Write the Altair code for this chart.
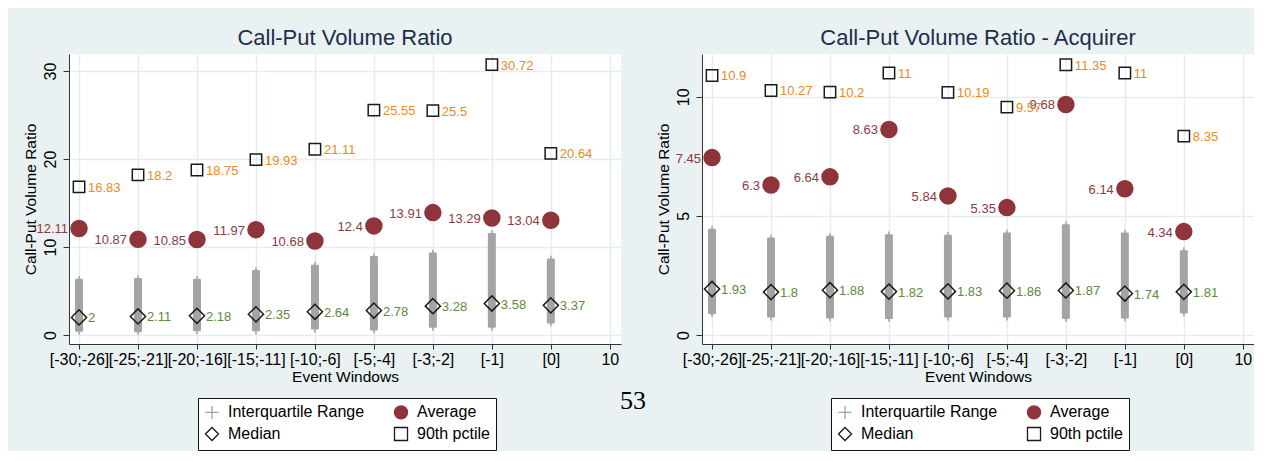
import json
import altair as alt
import pandas as pd

# ---------------- data ----------------
categories = ["[-30;-26]", "[-25;-21]", "[-20;-16]", "[-15;-11]", "[-10;-6]",
              "[-5;-4]", "[-3;-2]", "[-1]", "[0]"]
positions = [1, 2, 3, 4, 5, 6, 7, 8, 9]
series_names = ["Interquartile Range", "Average", "Median", "90th pctile"]

# Left panel: all firms
all_avg = [12.11, 10.87, 10.85, 11.97, 10.68, 12.4, 13.91, 13.29, 13.04]
all_median = [2, 2.11, 2.18, 2.35, 2.64, 2.78, 3.28, 3.58, 3.37]
all_p90 = [16.83, 18.2, 18.75, 19.93, 21.11, 25.55, 25.5, 30.72, 20.64]
all_iqr_lo = [0.45, 0.4, 0.5, 0.5, 0.7, 0.6, 0.9, 0.9, 1.4]
all_iqr_hi = [6.3, 6.4, 6.3, 7.3, 7.9, 8.9, 9.3, 11.5, 8.6]

# Right panel: acquirer
acq_avg = [7.45, 6.3, 6.64, 8.63, 5.84, 5.35, 9.68, 6.14, 4.34]
acq_median = [1.93, 1.8, 1.88, 1.82, 1.83, 1.86, 1.87, 1.74, 1.81]
acq_p90 = [10.9, 10.27, 10.2, 11, 10.19, 9.57, 11.35, 11, 8.35]
acq_iqr_lo = [0.9, 0.76, 0.72, 0.7, 0.76, 0.76, 0.7, 0.72, 0.93]
acq_iqr_hi = [4.43, 4.06, 4.13, 4.2, 4.18, 4.27, 4.62, 4.27, 3.53]

# ---------------- style ----------------
FONT = "Liberation Sans"
BG = "#E9F1F3"
GRID = "#E3ECEF"
MAROON = "#8F343B"
MAROON_TXT = "#8E3A42"
GREEN_TXT = "#5E8A3A"
ORANGE_TXT = "#EC8A1C"
GREY = "#A4A4A4"
INK = "#1A1A1A"
CROSS = "M-1,0L1,0M0,-1L0,1"

W, H = 552, 290
sizes = {"Interquartile Range": 50, "Average": 256, "Median": 230, "90th pctile": 130}

label_expr = "datum.value < 10 ? " + json.dumps(categories) + "[datum.value - 1] : '10'"


def panel(avg, med, p90, lo, hi, ydomain, yticks, title):
    pts_rows, lab_rows, rule_rows = [], [], []
    for i, p in enumerate(positions):
        rule_rows.append({"pos": p, "lo": lo[i], "hi": hi[i]})
        pts_rows.append({"pos": p, "value": lo[i], "series": series_names[0], "sz": sizes[series_names[0]]})
        pts_rows.append({"pos": p, "value": hi[i], "series": series_names[0], "sz": sizes[series_names[0]]})
        for s, arr in zip(series_names[1:], [avg, med, p90]):
            pts_rows.append({"pos": p, "value": arr[i], "series": s, "sz": sizes[s]})
            lab_rows.append({"pos": p, "value": arr[i], "series": s, "label": f"{arr[i]:g}"})
    pts = pd.DataFrame(pts_rows)
    labs = pd.DataFrame(lab_rows)
    rules = pd.DataFrame(rule_rows)

    xscale = alt.Scale(domain=[0.83, 10.19], nice=False, zero=False)
    yscale = alt.Scale(domain=ydomain, nice=False, zero=False)
    xaxis = alt.Axis(values=list(range(1, 11)), labelExpr=label_expr, title="Event Windows",
                     grid=True, tickSize=5, labelPadding=2, labelAngle=0,
                     labelOverlap=False, labelFlush=False, titlePadding=2, titleFontSize=15.5)
    yaxis = alt.Axis(values=yticks, title="Call-Put Volume Ratio", grid=True, tickSize=6,
                     labelAngle=270, labelAlign="center", labelBaseline="bottom",
                     labelPadding=5, titlePadding=4, labelOverlap=False, labelFlush=False,
                     titleFontSize=15.5)

    def X(f="pos"):
        return alt.X(f"{f}:Q", scale=xscale, axis=xaxis)

    def Y(f="value"):
        return alt.Y(f"{f}:Q", scale=yscale, axis=yaxis)

    leg = alt.Legend(
        title=None, orient="none", legendX=129, legendY=344, columns=2, direction="horizontal",
        fillColor="white", strokeColor="#111111", padding=6,
        labelFont=FONT, labelFontSize=16, labelColor="black", labelOffset=8,
        rowPadding=2, columnPadding=26, symbolStrokeWidth=1.3, symbolSize=170,
    )

    rule = alt.Chart(rules).mark_rule(strokeWidth=8, color=GREY).encode(
        x=X(), y=Y("lo"), y2="hi:Q")

    points = alt.Chart(pts).mark_point(filled=True, strokeWidth=1.5, opacity=1).encode(
        x=X(), y=Y(),
        shape=alt.Shape("series:N", scale=alt.Scale(domain=series_names,
                        range=[CROSS, "circle", "diamond", "square"]), legend=leg),
        fill=alt.Fill("series:N", scale=alt.Scale(domain=series_names,
                      range=[GREY, MAROON, "transparent", "transparent"]), legend=leg),
        stroke=alt.Stroke("series:N", scale=alt.Scale(domain=series_names,
                          range=[GREY, MAROON, INK, INK]), legend=leg),
        size=alt.Size("sz:Q", scale=None, legend=None),
    )

    t_avg = alt.Chart(labs).transform_filter("datum.series === 'Average'").mark_text(
        align="right", baseline="middle", dx=-11, dy=1, font=FONT, fontSize=13,
        color=MAROON_TXT).encode(x=X(), y=Y(), text="label:N")
    t_med = alt.Chart(labs).transform_filter("datum.series === 'Median'").mark_text(
        align="left", baseline="middle", dx=9, dy=1, font=FONT, fontSize=13,
        color=GREEN_TXT).encode(x=X(), y=Y(), text="label:N")
    t_p90 = alt.Chart(labs).transform_filter("datum.series === '90th pctile'").mark_text(
        align="left", baseline="middle", dx=9, dy=1, font=FONT, fontSize=13,
        color=ORANGE_TXT).encode(x=X(), y=Y(), text="label:N")

    return alt.layer(rule, points, t_avg, t_med, t_p90).properties(
        width=W, height=H,
        title=alt.TitleParams(title, fontSize=22, font=FONT, fontWeight="normal",
                              color="#1F2D4D", anchor="middle", frame="group", offset=4),
    )


left = panel(all_avg, all_median, all_p90, all_iqr_lo, all_iqr_hi,
             [-1.02, 31.93], [0, 10, 20, 30], "Call-Put Volume Ratio")

page_no = alt.Chart(pd.DataFrame({"page": ["53"]})).mark_text(
    font="Liberation Serif", fontSize=26, align="center", baseline="middle", color="black"
).encode(x=alt.value(564), y=alt.value(347), text="page:N")
left = alt.layer(left, page_no)

right = panel(acq_avg, acq_median, acq_p90, acq_iqr_lo, acq_iqr_hi,
              [-0.38, 11.8], [0, 5, 10], "Call-Put Volume Ratio - Acquirer")

chart = alt.hconcat(left, right, spacing=81, bounds="flush").resolve_scale(
    x="independent", y="independent", shape="independent", fill="independent",
    stroke="independent", size="independent"
).resolve_legend(shape="independent", fill="independent", stroke="independent").properties(
    padding={"left": 15, "top": 19, "right": 0, "bottom": 0}
).configure(background=BG).configure_view(fill="white", stroke=None).configure_axis(
    labelFont=FONT, labelFontSize=16, labelColor="black",
    titleFont=FONT, titleColor="black", titleFontWeight="normal",
    domainColor="#333333", tickColor="#333333", domainWidth=1, tickWidth=1,
    gridColor=GRID, gridWidth=1.5,
)

chart.save("out.html", embed_options={"renderer": "svg", "actions": False})
